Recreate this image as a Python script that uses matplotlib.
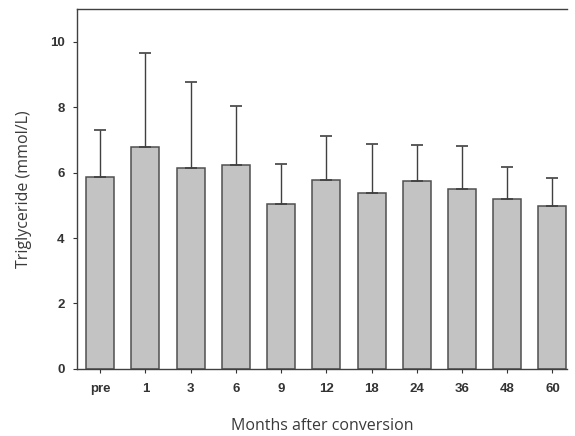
import numpy as np
import matplotlib.pyplot as plt

# data
months = ['pre', '1', '3', '6', '9', '12', '18', '24', '36', '48', '60']
tg_mean = [5.88, 6.77, 6.13, 6.22, 5.03, 5.79, 5.37, 5.76, 5.49, 5.18, 4.97]
tg_upper = [7.29, 9.66, 8.78, 8.05, 6.25, 7.13, 6.89, 6.86, 6.83, 6.16, 5.85]

tg_sd = np.array(tg_upper) - np.array(tg_mean)
x = np.arange(len(months))

fig = plt.figure(figsize=(5.75, 4.36), dpi=100)
ax = fig.add_axes([0.134, 0.154, 0.852, 0.825])

ax.bar(x, tg_mean, width=0.62, color='#c3c3c3', edgecolor='#505050', linewidth=1.1)
# only upper error bars
ax.errorbar(x, tg_mean, yerr=[np.zeros(len(x)), tg_sd], fmt='none',
            ecolor='#404040', elinewidth=1.0, capsize=4, capthick=1.2)

ax.set_xlim(-0.51, 10.32)
ax.set_ylim(0, 11)
ax.set_yticks([0, 2, 4, 6, 8, 10])
ax.set_xticks(x)
ax.set_xticklabels(months)

for s in ['left', 'bottom', 'top']:
    ax.spines[s].set_color('#404040')
    ax.spines[s].set_linewidth(1.0)
ax.spines['right'].set_visible(False)

ax.tick_params(axis='both', labelsize=9.5, colors='#333333', length=3, width=0.8,
               direction='out')
ax.tick_params(axis='x', pad=7)
ax.tick_params(axis='y', pad=6)
for lab in ax.get_xticklabels() + ax.get_yticklabels():
    lab.set_family('Liberation Sans')
    lab.set_fontweight('bold')

ax.set_ylabel('Triglyceride (mmol/L)', fontsize=11.5, family='Open Sans',
              color='#3a3a3a', labelpad=13)
ax.set_xlabel('Months after conversion', fontsize=11.5, family='Open Sans',
              color='#3a3a3a', labelpad=17)

plt.savefig('out.png', dpi=100)
